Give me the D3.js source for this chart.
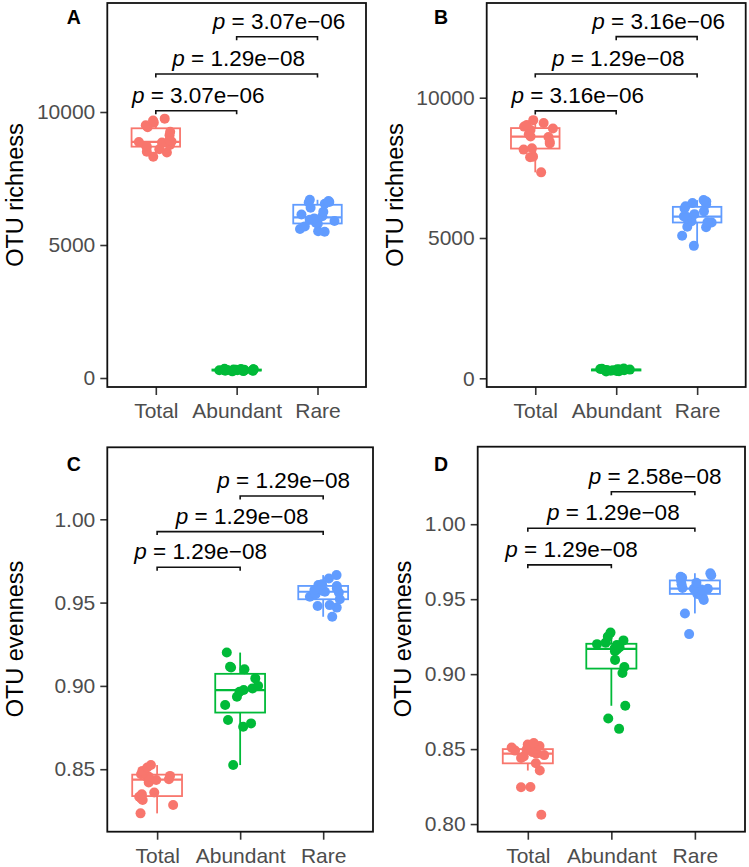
<!DOCTYPE html>
<html><head><meta charset="utf-8">
<script src="https://cdn.jsdelivr.net/npm/d3@7"></script>
<style>
body{margin:0;background:#fff}
text{font-family:"Liberation Sans",Arial,Helvetica,sans-serif}
</style>
</head><body><svg id="chart" width="749" height="867"></svg>
<script>
// ---------- data ----------
const categories = ["Total", "Abundant", "Rare"];
const groupColors = ["#F8766D", "#00BA38", "#619CFF"];
const panelLetters = ["A", "B", "C", "D"];
const yTitles = ["OTU richness", "OTU richness", "OTU evenness", "OTU evenness"];

const richnessA_Total    = [8320, 8480, 8510, 8600, 8690, 8720, 8760, 8850, 8870, 8890, 8950, 9130, 9260, 9430, 9500, 9600, 9680, 9750];
const richnessA_Abundant = [250, 260, 270, 275, 280, 285, 290, 295, 300, 300, 305, 310, 315, 320, 325, 330, 340, 350];
const richnessA_Rare     = [5500, 5520, 5600, 5700, 5800, 5840, 5900, 5950, 6000, 6080, 6150, 6250, 6400, 6550, 6600, 6620, 6650, 6700];

const richnessB_Total    = [7340, 7880, 7900, 8150, 8200, 8370, 8430, 8600, 8620, 8700, 8850, 8900, 8970, 9030, 9100, 9200];
const richnessB_Abundant = [240, 250, 260, 270, 280, 285, 290, 295, 300, 305, 310, 315, 320, 330, 340, 350];
const richnessB_Rare     = [4720, 5080, 5380, 5400, 5550, 5560, 5600, 5700, 5750, 5770, 5850, 5950, 6050, 6130, 6200, 6250, 6300, 6350];

const evennessC_Total    = [0.8235, 0.8285, 0.8315, 0.8325, 0.8335, 0.835, 0.836, 0.842, 0.8435, 0.844, 0.845, 0.8455, 0.846, 0.847, 0.848, 0.849, 0.851, 0.8525];
const evennessC_Abundant = [0.8525, 0.8755, 0.8775, 0.8795, 0.8885, 0.8935, 0.8965, 0.8975, 0.8985, 0.900, 0.9045, 0.910, 0.911, 0.9115, 0.920];
const evennessC_Rare     = [0.9415, 0.947, 0.948, 0.9485, 0.952, 0.9535, 0.955, 0.956, 0.9565, 0.957, 0.9575, 0.9585, 0.960, 0.9605, 0.961, 0.9645, 0.9665];

const evennessD_Total    = [0.8062, 0.8245, 0.8247, 0.8357, 0.8405, 0.844, 0.845, 0.846, 0.847, 0.848, 0.849, 0.8495, 0.850, 0.851, 0.852, 0.853, 0.854];
const evennessD_Abundant = [0.8635, 0.8704, 0.8789, 0.9007, 0.9047, 0.9095, 0.9153, 0.9165, 0.9173, 0.918, 0.9195, 0.920, 0.921, 0.9225, 0.925, 0.9277];
const evennessD_Rare     = [0.9267, 0.9405, 0.9495, 0.951, 0.9535, 0.956, 0.9565, 0.957, 0.957, 0.9575, 0.960, 0.961, 0.9625, 0.9643, 0.965, 0.966, 0.9673];

const yTicksRichness = [0, 5000, 10000];
const yTicksEvennessC = [0.85, 0.90, 0.95, 1.00];
const yTicksEvennessD = [0.80, 0.85, 0.90, 0.95, 1.00];

const comparisons = [[0, 1], [0, 2], [1, 2]];
const pLabelsA = ["3.07e\u221206", "1.29e\u221208", "3.07e\u221206"];
const pLabelsB = ["3.16e\u221206", "1.29e\u221208", "3.16e\u221206"];
const pLabelsC = ["1.29e\u221208", "1.29e\u221208", "1.29e\u221208"];
const pLabelsD = ["1.29e\u221208", "1.29e\u221208", "2.58e\u221208"];
const bracketYA = [10050, 11430, 12830];
const bracketYB = [9530, 10845, 12175];
const bracketYC = [0.9712, 0.9926, 1.0140];
const bracketYD = [0.9729, 0.9973, 1.0217];

// ---------- layout ----------
const panels = [
  {data: [richnessA_Total, richnessA_Abundant, richnessA_Rare], ticks: yTicksRichness, fmt: d3.format("d"),
   p: pLabelsA, by: bracketYA, box: [107.3, 366, 3, 387], dom: [-338, 14098], letter: [73.7, 24], title: [15, 195]},
  {data: [richnessB_Total, richnessB_Abundant, richnessB_Rare], ticks: yTicksRichness, fmt: d3.format("d"),
   p: pLabelsB, by: bracketYB, box: [486.7, 745.7, 3, 387], dom: [-310, 13375], letter: [441, 23.5], title: [395, 195]},
  {data: [evennessC_Total, evennessC_Abundant, evennessC_Rare], ticks: yTicksEvennessC, fmt: d3.format(".2f"),
   p: pLabelsC, by: bracketYC, box: [107.3, 373, 447.3, 831.7], dom: [0.8125, 1.0432], letter: [73.7, 471], title: [15, 639]},
  {data: [evennessD_Total, evennessD_Abundant, evennessD_Rare], ticks: yTicksEvennessD, fmt: d3.format(".2f"),
   p: pLabelsD, by: bracketYD, box: [477.7, 745, 446.7, 831.7], dom: [0.7949, 1.0517], letter: [441, 470.5], title: [403, 639]}
];

const svg = d3.select("#chart");
const rng = d3.randomUniform.source(d3.randomLcg(0.4217))(-0.22, 0.22);

panels.forEach((P, pi) => {
  const [x0, x1, y0, y1] = P.box;
  const x = d3.scalePoint().domain(categories).range([x0, x1]).padding(0.6);
  const y = d3.scaleLinear().domain(P.dom).range([y1, y0]);
  const step = x.step();
  const g = svg.append("g");

  // axes
  const ya = g.append("g").attr("transform", `translate(${x0},0)`)
    .call(d3.axisLeft(y).tickValues(P.ticks).tickFormat(P.fmt).tickSize(7).tickPadding(5));
  const xa = g.append("g").attr("transform", `translate(0,${y1})`)
    .call(d3.axisBottom(x).tickSize(8).tickPadding(8));
  [ya, xa].forEach(a => {
    a.select(".domain").remove();
    a.selectAll(".tick line").attr("stroke", "#333").attr("stroke-width", 1.6);
    a.selectAll(".tick text").attr("fill", "#4d4d4d").style("font-size", "21px");
  });

  // boxes
  P.data.forEach((vals, ci) => {
    const s = vals.slice().sort(d3.ascending);
    const q1 = d3.quantileSorted(s, 0.25), med = d3.quantileSorted(s, 0.5), q3 = d3.quantileSorted(s, 0.75);
    const iqr = q3 - q1;
    const lo = d3.min(s.filter(v => v >= q1 - 1.5 * iqr));
    const hi = d3.max(s.filter(v => v <= q3 + 1.5 * iqr));
    const cx = x(categories[ci]);
    const bw = step * 0.6;
    const col = groupColors[ci];
    const bg = g.append("g").attr("stroke", col).attr("stroke-width", 1.8).attr("fill", "none");
    bg.append("line").attr("x1", cx).attr("x2", cx).attr("y1", y(q3)).attr("y2", y(hi));
    bg.append("line").attr("x1", cx).attr("x2", cx).attr("y1", y(q1)).attr("y2", y(lo));
    bg.append("rect").attr("x", cx - bw / 2).attr("width", bw).attr("y", y(q3)).attr("height", Math.max(0.5, y(q1) - y(q3))).attr("fill", "#fff");
    bg.append("line").attr("x1", cx - bw / 2).attr("x2", cx + bw / 2).attr("y1", y(med)).attr("y2", y(med)).attr("stroke-width", 2.2);
  });
  // points
  P.data.forEach((vals, ci) => {
    const cx = x(categories[ci]);
    g.append("g").selectAll("circle").data(vals).join("circle")
      .attr("cx", () => cx + rng() * step)
      .attr("cy", d => y(d))
      .attr("r", 5)
      .attr("fill", groupColors[ci]);
  });

  // frame
  g.append("rect").attr("x", x0).attr("y", y0).attr("width", x1 - x0).attr("height", y1 - y0)
    .attr("fill", "none").attr("stroke", "#111").attr("stroke-width", 1.8);

  // brackets
  comparisons.forEach(([a, b], k) => {
    const xa1 = x(categories[a]), xb1 = x(categories[b]), yy = y(P.by[k]);
    g.append("path").attr("d", `M${xa1},${yy + 3.5}V${yy}H${xb1}V${yy + 3.5}`)
      .attr("fill", "none").attr("stroke", "#111").attr("stroke-width", 1.6);
    const t = g.append("text").attr("x", (xa1 + xb1) / 2 + 2).attr("y", yy - 8)
      .attr("text-anchor", "middle").style("font-size", "22.5px").attr("fill", "#000");
    t.append("tspan").attr("font-style", "italic").text("p");
    t.append("tspan").text(" = " + P.p[k]);
  });

  // panel letter
  g.append("text").attr("x", P.letter[0]).attr("y", P.letter[1]).attr("text-anchor", "middle")
    .style("font-size", "19.5px").attr("font-weight", "bold").text(panelLetters[pi]);
  // y title
  g.append("text").attr("transform", `translate(${P.title[0] + 8},${P.title[1]}) rotate(-90)`)
    .attr("text-anchor", "middle").style("font-size", "23.5px").attr("fill", "#000").text(yTitles[pi]);
});
</script>
</body></html>
